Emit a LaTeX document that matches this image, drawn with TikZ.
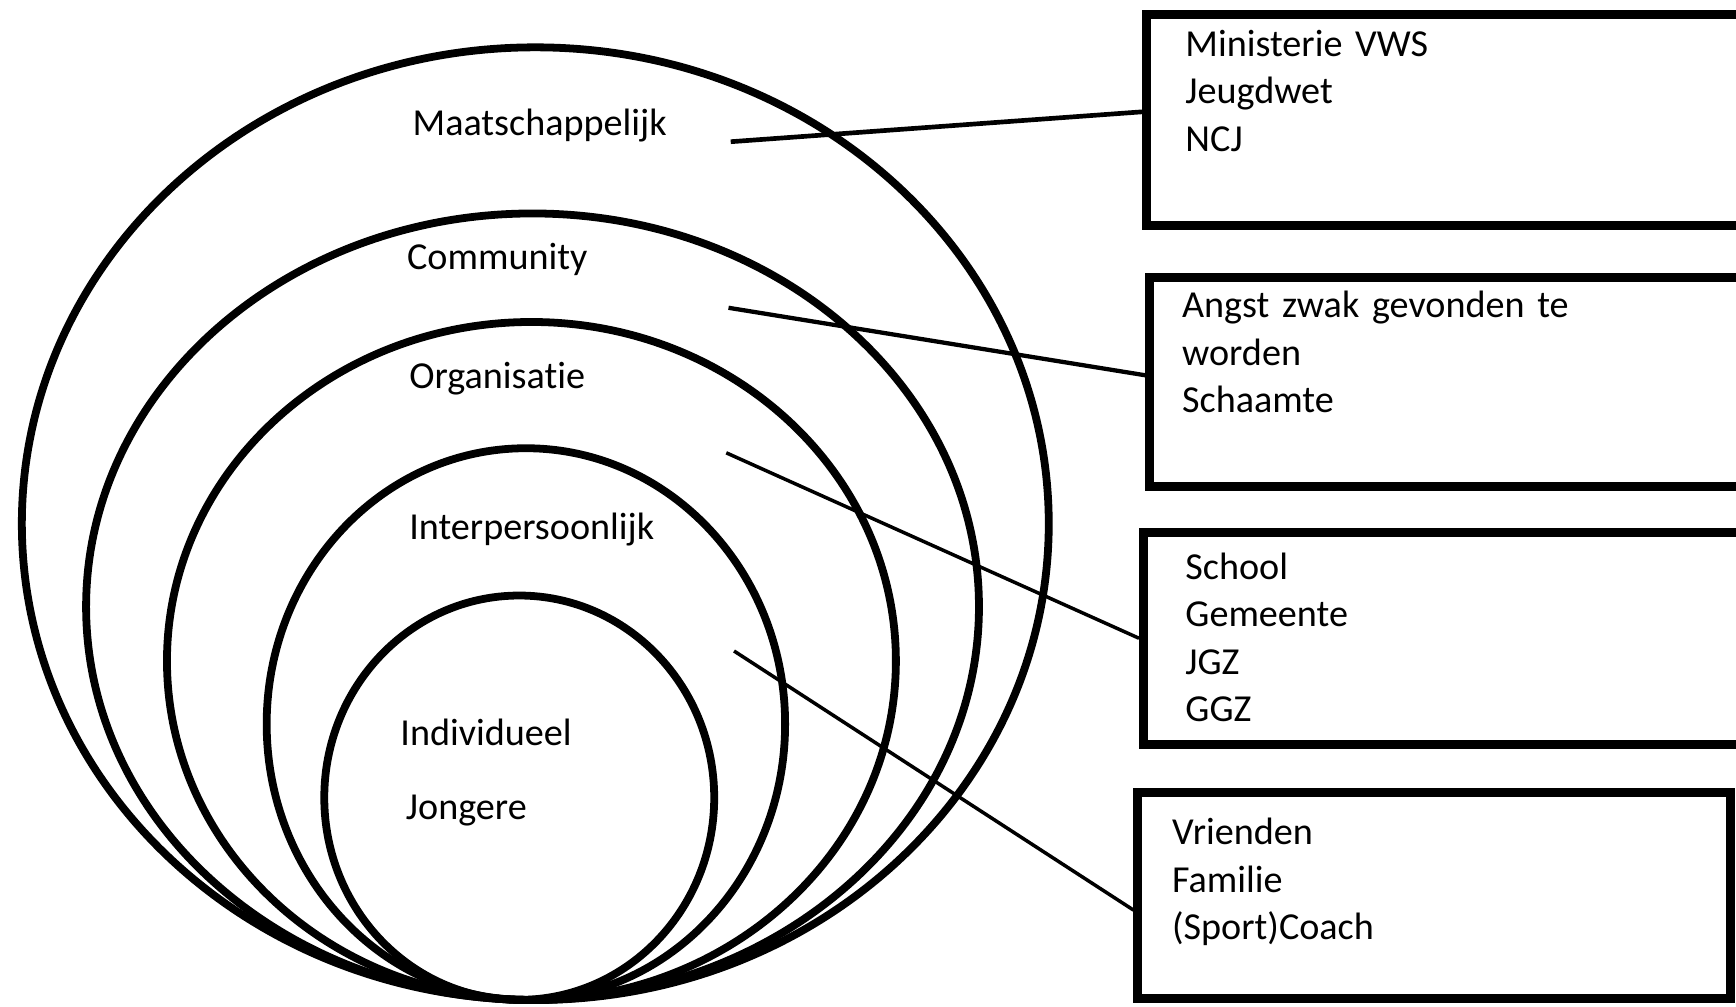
\documentclass[tikz,border=0pt]{standalone}
\usepackage{fontspec}
\setmainfont{Carlito}[Ligatures=CommonOff]
\usetikzlibrary{shapes.geometric,positioning}

\begin{document}
\begin{tikzpicture}
[x=0.01cm,y=-0.01cm,
      font=\fontsize{9.8}{12.2}\selectfont,
      ring/.style={draw,ellipse,line width=2pt,inner sep=0pt},
      box/.style={draw,rectangle,line width=2.3pt,inner sep=0pt},
      lbl/.style={anchor=base west,inner sep=0pt},
      lst/.style={anchor=base west,inner sep=0pt,align=left,text width=4.6cm},
      link/.style={line width=0.9pt}]
 \useasboundingbox (0,0) rectangle (1568,909);
 % levels
 \node[ring,minimum width=9.27cm,minimum height=8.6cm] (maat) at (483.5,473) {};
 \node[ring,minimum width=8.06cm,minimum height=7.1cm] (comm) at (481,548) {};
 \node[ring,minimum width=6.58cm,minimum height=6.12cm] (org) at (480,597) {};
 \node[ring,minimum width=4.68cm,minimum height=4.98cm] (inter) at (475,654) {};
 \node[ring,minimum width=3.52cm,minimum height=3.65cm] (indiv) at (469,720.5) {};
 \node[lbl] (lmaat) at (372,122) {Maatschappelijk};
 \node[lbl] (lcomm) at (367,243) {Community};
 \node[lbl] (lorg) at (369,351) {Organisatie};
 \node[lbl] (linter) at (369,487) {Interpersoonlijk};
 \node[lbl] (lindiv) at (361,673) {Individueel};
 \node[lbl] (ljong) at (366,740) {Jongere};
 % boxes
 \node[box,minimum width=5.39cm,minimum height=1.91cm] (vws) at (1305.5,108.5) {};
 \node[box,minimum width=5.37cm,minimum height=1.88cm] (angst) at (1306.5,345) {};
 \node[box,minimum width=5.42cm,minimum height=1.91cm] (school) at (1304,576.5) {};
 \node[box,minimum width=5.35cm,minimum height=1.86cm] (vrienden) at (1295.5,809) {};
 \node[lst] (tvws) at (1070,51) {Ministerie VWS\\Jeugdwet\\NCJ};
 \node[lst] (tangst) at (1067,287) {Angst zwak gevonden te\\worden\\Schaamte};
 \node[lst] (tschool) at (1070,523) {School\\Gemeente\\JGZ\\GGZ};
 \node[lst] (tvrienden) at (1058,763) {Vrienden\\Familie\\(Sport)Coach};
 % links
 \coordinate (cmaat) at (660,128);
 \coordinate (ccomm) at (658,278);
 \coordinate (corg) at (656,409);
 \coordinate (cinter) at (663,588);
 \draw[link,line width=1.2pt] (cmaat) -- ([yshift=0.075cm]vws.west);
 \draw[link,line width=1.1pt] (ccomm) -- ([xshift=0.07cm,yshift=0.05cm]angst.west);
 \draw[link] (corg) -- (school.west);
 \draw[link] (cinter) -- ([yshift=-0.13cm]vrienden.west);
\end{tikzpicture}
\end{document}
